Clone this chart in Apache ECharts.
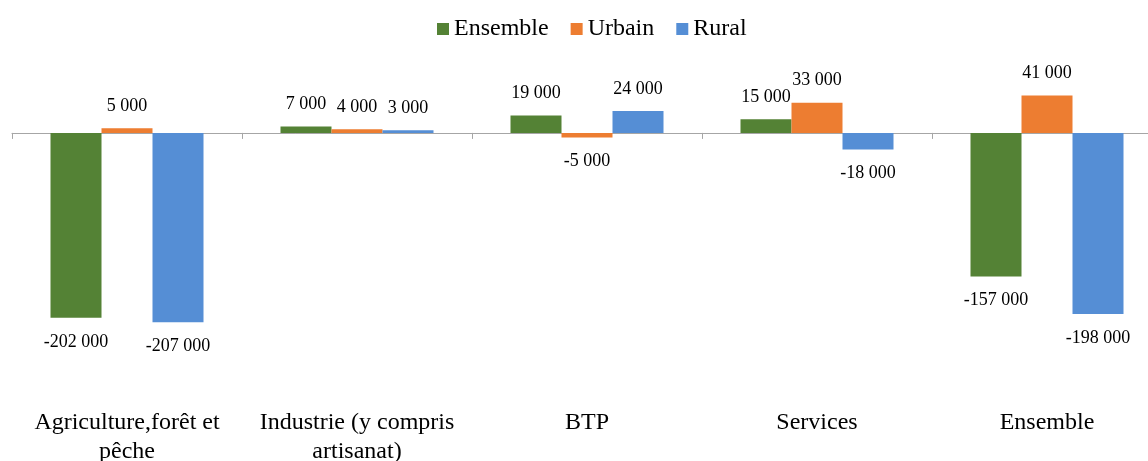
<!DOCTYPE html>
<html>
<head>
<meta charset="utf-8">
<script src="https://cdn.jsdelivr.net/npm/echarts@6/dist/echarts.min.js"></script>
<style>html,body{margin:0;padding:0;background:#fff;}#c{width:1148px;height:461px;}</style>
</head>
<body>
<div id="c"></div>
<script>
const categories = ['Agriculture,forêt et\npêche', 'Industrie (y compris\nartisanat)', 'BTP', 'Services', 'Ensemble'];
const seriesNames = ['Ensemble', 'Urbain', 'Rural'];
const ensemble = [-202000, 7000, 19000, 15000, -157000];
const urbain = [5000, 4000, -5000, 33000, 41000];
const rural = [-207000, 3000, 24000, -18000, -198000];
const colors = ['#548235', '#ED7D31', '#558ED5'];

const FONT = "'Liberation Serif', 'Times New Roman', serif";

function fmt(v) {
  const s = Math.abs(v).toString().replace(/\B(?=(\d{3})+(?!\d))/g, ' ');
  return (v < 0 ? '-' : '') + s;
}
function items(arr) {
  return arr.map(v => ({
    value: v,
    label: { position: v < 0 ? 'bottom' : 'top', distance: v < 0 ? 15 : 13 }
  }));
}
function mk(name, data, color) {
  return {
    name: name,
    type: 'bar',
    xAxisIndex: 0,
    data: items(data),
    barWidth: 51,
    barGap: '0%',
    itemStyle: { color: color },
    label: {
      show: true,
      color: '#000',
      fontFamily: FONT,
      fontSize: 18,
      formatter: p => fmt(p.value)
    }
  };
}

const chart = echarts.init(document.getElementById('c'));
chart.setOption({
  backgroundColor: '#fff',
  animation: false,
  color: colors,
  legend: {
    data: seriesNames,
    left: 432,
    top: 12,
    itemWidth: 12,
    itemHeight: 12,
    itemGap: 22,
    icon: 'rect',
    textStyle: { fontFamily: FONT, fontSize: 24, color: '#000' }
  },
  grid: { left: 12, top: 78, right: -14, bottom: 117.6, containLabel: false, outerBoundsMode: 'none' },
  xAxis: [
    {
      type: 'category',
      data: categories,
      axisLine: { show: true, onZero: true, lineStyle: { color: '#a6a6a6', width: 1 } },
      axisTick: { show: true, length: 6, lineStyle: { color: '#a6a6a6' } },
      axisLabel: { show: false },
      splitLine: { show: false }
    },
    {
      type: 'category',
      data: categories,
      position: 'bottom',
      axisLine: { show: false, onZero: false },
      axisTick: { show: false },
      splitLine: { show: false },
      axisLabel: {
        show: true,
        margin: 65,
        interval: 0,
        color: '#000',
        fontFamily: FONT,
        fontSize: 24,
        lineHeight: 29
      }
    }
  ],
  yAxis: {
    type: 'value',
    min: -230000,
    max: 60000,
    show: false,
    splitLine: { show: false }
  },
  series: [
    mk(seriesNames[0], ensemble, colors[0]),
    mk(seriesNames[1], urbain, colors[1]),
    mk(seriesNames[2], rural, colors[2])
  ]
});
</script>
</body>
</html>
